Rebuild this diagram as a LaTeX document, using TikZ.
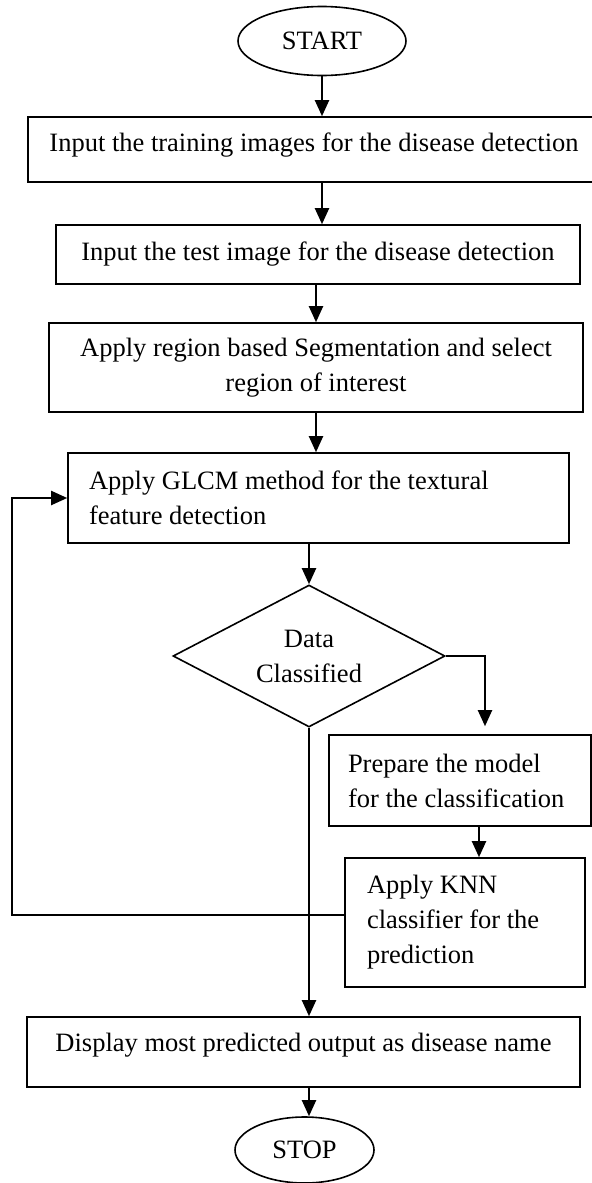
\documentclass[tikz,border=0pt]{standalone}
\usepackage{fontspec}
\setmainfont{Liberation Serif}
\usepackage{tikz}
\usetikzlibrary{shapes.geometric,arrows.meta}
\def\darr{\draw[-{Triangle[length=8pt,width=7pt]},line width=1pt]}
\tikzset{
    blk/.style={draw,line width=0.8pt,inner sep=0pt,align=center},
    lblk/.style={draw,line width=0.8pt,inner ysep=0pt,align=flush left},
    term/.style={draw,ellipse,line width=0.8pt,inner sep=0pt},
}

\begin{document}
\begin{tikzpicture}[x=0.5pt,y=-0.5pt,font=\fontsize{13.25pt}{17.5pt}\selectfont]
                \useasboundingbox (0,0) rectangle (592,1183);
                \node[term,minimum width=84pt,minimum height=34.5pt] (start) at (322,41) {START};
                \node[blk,minimum width=286pt,minimum height=32.5pt,text depth=7.5pt] (train) at (314,149.5)
                    {Input the training images for the disease detection};
                \node[blk,minimum width=262pt,minimum height=29.5pt] (test) at (318,254.5)
                    {Input the test image for the disease detection};
                \node[blk,minimum width=267pt,minimum height=44.5pt] (seg) at (316,367.5)
                    {Apply region based Segmentation and select\\region of interest};
                \node[lblk,text width=229.5pt,inner xsep=10.5pt,minimum height=45pt] (glcm) at (318.5,498)
                    {Apply GLCM method for the textural\\feature detection};
                \node[draw,diamond,aspect=2,line width=0.8pt,inner sep=0pt,align=center,
                      minimum width=136pt,minimum height=71pt] (dec) at (309,656) {Data\\Classified};
                \node[lblk,text width=112pt,inner xsep=9.5pt,minimum height=45.5pt] (model) at (460,780.5)
                    {Prepare the model\\for the classification};
                \node[lblk,text width=98pt,inner xsep=11pt,minimum height=64.5pt] (knn) at (465,922.5)
                    {Apply KNN\\classifier for the\\prediction};
                \node[blk,minimum width=276.5pt,minimum height=35pt,text depth=10pt] (disp) at (303.5,1052)
                    {Display most predicted output as disease name};
                \node[term,minimum width=69.5pt,minimum height=33pt] (stop) at (304.5,1150) {STOP};
                \coordinate (back) at (12,915);
                \darr (start) -- (start |- train.north);
                \darr (train.south -| start) -- (test.north -| start);
                \darr (test.south -| seg) -- (seg.north);
                \darr (seg.south) -- (seg.south |- glcm.north);
                \darr (glcm.south -| dec) -- (dec.north);
                \darr[shorten >=4pt] (dec.east) -| ([xshift=12.5pt]model.north);
                \darr ([xshift=9.5pt]model.south) -- ([xshift=9.5pt]model.south |- knn.north);
                \darr (knn.west |- back) -- (back) |- (glcm.west);
                \darr (dec.south) -- (dec.south |- disp.north);
                \darr (disp.south -| dec.south) -- (dec.south |- stop.north);
            \end{tikzpicture}
\end{document}
